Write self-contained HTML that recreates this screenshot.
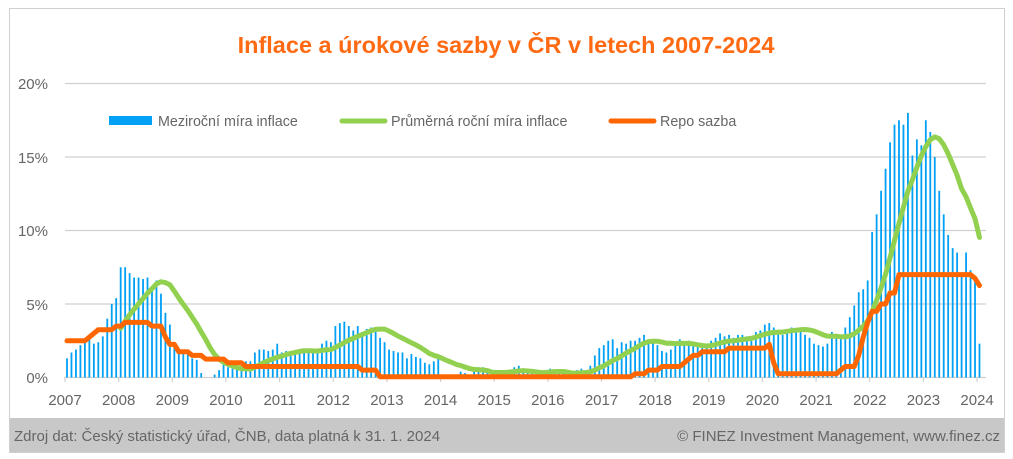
<!DOCTYPE html>
<html><head><meta charset="utf-8"><style>
html,body{margin:0;padding:0;background:#fff;}
svg{display:block;font-family:"Liberation Sans",sans-serif;}
</style></head><body>
<svg id="c" width="1013" height="459" xmlns="http://www.w3.org/2000/svg">
<rect x="9.5" y="8.5" width="995" height="444" fill="#fff" stroke="#d0d0d0"/>
<rect x="10" y="418" width="994" height="34" fill="#c8c8c8"/>
<text x="506" y="53" text-anchor="middle" font-size="23.5" font-weight="bold" fill="#ff6a13">Inflace a úrokové sazby v ČR v letech 2007-2024</text>
<g stroke="#d0d0d0" stroke-width="1.2">
<line x1="65" x2="986" y1="83.5" y2="83.5"/><line x1="65" x2="986" y1="157" y2="157"/>
<line x1="65" x2="986" y1="230.5" y2="230.5"/><line x1="65" x2="986" y1="304" y2="304"/>
<line x1="65" x2="986" y1="377.5" y2="377.5"/>
</g>
<g font-size="15" fill="#666" text-anchor="end">
<text x="48" y="89">20%</text><text x="48" y="163">15%</text><text x="48" y="236">10%</text><text x="48" y="310">5%</text><text x="48" y="383">0%</text>
</g>
<g id="xt" font-size="15" fill="#666" text-anchor="middle"></g>
<g id="bars" fill="#00a0f5"></g>
<rect x="109" y="116" width="43" height="9" fill="#00a0f5"/>
<text x="158" y="126" font-size="14.3" fill="#666">Meziroční míra inflace</text>
<line x1="342" x2="385" y1="121" y2="121" stroke="#92d050" stroke-width="5" stroke-linecap="round"/>
<text x="391" y="126" font-size="14.3" fill="#666">Průměrná roční míra inflace</text>
<line x1="611" x2="654" y1="121" y2="121" stroke="#ff6600" stroke-width="5" stroke-linecap="round"/>
<text x="660" y="126" font-size="14.3" fill="#666">Repo sazba</text>
<polyline id="g" fill="none" stroke="#92d050" stroke-width="5" stroke-linejoin="round" stroke-linecap="round"/>
<polyline id="r" fill="none" stroke="#ff6600" stroke-width="5" stroke-linejoin="round" stroke-linecap="round"/>
<text x="14" y="441" font-size="15" fill="#666">Zdroj dat: Český statistický úřad, ČNB, data platná k 31. 1. 2024</text>
<text x="1000" y="441" font-size="15" fill="#666" text-anchor="end">© FINEZ Investment Management, www.finez.cz</text>
</svg>
<script>
var cpi=[1.3,1.7,1.9,2.2,2.4,2.6,2.3,2.4,2.8,4.0,5.0,5.4,
7.5,7.5,7.1,6.8,6.8,6.7,6.8,6.2,6.6,5.7,4.4,3.6,
2.2,2.0,1.9,1.8,1.3,1.2,0.3,0.0,-0.1,0.2,0.5,1.0,
0.7,0.6,0.7,0.8,1.1,1.1,1.7,1.9,1.9,1.8,1.9,2.3,
1.7,1.8,1.7,1.6,1.8,1.8,1.7,1.7,1.8,2.3,2.5,2.4,
3.5,3.7,3.8,3.5,3.2,3.5,3.1,3.3,3.4,3.4,2.7,2.4,
1.9,1.8,1.7,1.7,1.3,1.6,1.4,1.3,1.0,0.9,1.1,1.4,
0.2,0.2,0.2,0.1,0.4,0.3,0.2,0.6,0.7,0.7,0.6,0.1,
0.1,0.1,0.2,0.5,0.7,0.8,0.5,0.3,0.4,0.2,0.1,0.1,
0.6,0.4,0.3,0.5,0.1,0.1,0.5,0.6,0.5,0.8,1.5,2.0,
2.2,2.5,2.6,2.0,2.4,2.3,2.5,2.5,2.7,2.9,2.6,2.4,
2.2,1.8,1.7,1.9,2.2,2.6,2.3,2.5,2.3,2.2,2.0,2.0,
2.5,2.7,3.0,2.8,2.9,2.7,2.9,2.9,2.8,2.7,3.1,3.2,
3.6,3.7,3.4,3.2,2.9,3.3,3.4,3.3,3.2,2.9,2.7,2.3,
2.2,2.1,2.3,3.1,2.9,2.8,3.4,4.1,4.9,5.8,6.0,6.6,
9.9,11.1,12.7,14.2,16.0,17.2,17.5,17.2,18.0,15.1,16.2,15.8,
17.5,16.7,15.0,12.7,11.1,9.7,8.8,8.5,6.9,8.5,7.3,6.9,2.3];
var repo=[2.5,2.5,2.5,2.5,2.5,2.75,3.0,3.25,3.25,3.25,3.25,3.5,
3.5,3.75,3.75,3.75,3.75,3.75,3.75,3.5,3.5,3.5,2.75,2.25,
2.25,1.75,1.75,1.75,1.5,1.5,1.5,1.25,1.25,1.25,1.25,1.25,
1.0,1.0,1.0,1.0,0.75,0.75,0.75,0.75,0.75,0.75,0.75,0.75];
for(var i=0;i<12;i++)repo.push(0.75);
repo.push(0.75,0.75,0.75,0.75,0.75,0.75,0.5,0.5,0.5,0.5,0.05,0.05);
for(var i=0;i<55;i++)repo.push(0.05);
repo.push(0.25,0.25,0.25,0.5,0.5,
0.5,0.75,0.75,0.75,0.75,0.75,1.0,1.25,1.5,1.5,1.75,1.75,
1.75,1.75,1.75,1.75,2.0,2.0,2.0,2.0,2.0,2.0,2.0,2.0,
2.0,2.25,1.0,0.25,0.25,0.25,0.25,0.25,0.25,0.25,0.25,0.25,
0.25,0.25,0.25,0.25,0.25,0.5,0.75,0.75,0.75,1.5,2.75,3.75,
4.5,4.5,5.0,5.0,5.75,5.75,7.0,7.0,7.0,7.0,7.0,7.0);
for(var i=0;i<11;i++)repo.push(7.0);
repo.push(6.75,6.25);
var X=function(m){return 67+m*4.473;},Y=function(v){return 377.5-v*14.7;};
var NS="http://www.w3.org/2000/svg",b=document.getElementById('bars');
cpi.forEach(function(v,m){if(v<=0)return;var r=document.createElementNS(NS,'rect');
r.setAttribute('x',X(m)-0.9);r.setAttribute('width',1.8);r.setAttribute('y',Y(v));r.setAttribute('height',377.5-Y(v));b.appendChild(r);});
var pre=[2.5,2.5,2.5,2.5,2.5,2.5,2.5,2.5,2.5,2.5,2.5,2.5];var all=pre.concat(cpi);var gp=[];
for(var m=12;m<cpi.length;m++){var s=0;for(var k=0;k<12;k++)s+=all[m+12-k];gp.push(X(m).toFixed(1)+','+Y(s/12).toFixed(1));}
document.getElementById('g').setAttribute('points',gp.join(' '));
var rp=[];repo.forEach(function(v,m){rp.push(X(m).toFixed(1)+','+Y(v).toFixed(1));});
document.getElementById('r').setAttribute('points',rp.join(' '));
var xt=document.getElementById('xt');
for(var y=2007;y<=2024;y++){var x=65+(y-2007)*53.65;var t=document.createElementNS(NS,'text');t.setAttribute('x',x);t.setAttribute('y',405);t.textContent=y;xt.appendChild(t);
var l=document.createElementNS(NS,'line');l.setAttribute('x1',x);l.setAttribute('x2',x);l.setAttribute('y1',377);l.setAttribute('y2',382);l.setAttribute('stroke','#d0d0d0');l.setAttribute('stroke-width','1.2');xt.appendChild(l);}
</script>
</body></html>
